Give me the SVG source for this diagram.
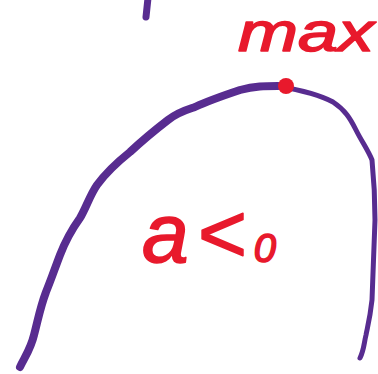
<svg xmlns="http://www.w3.org/2000/svg" width="378" height="374" viewBox="0 0 378 374">
<style>
.curve{fill:none;stroke:#582C90;stroke-linecap:round;stroke-linejoin:round}
.hand{fill:#E8192C;stroke:#E8192C;stroke-width:1.6;stroke-linejoin:round;font-family:"Liberation Sans","DejaVu Sans",sans-serif;font-style:italic}
</style>
<rect width="378" height="374" fill="#fff"/>
<g id="connectors">
<path class="curve" stroke-width="7" d="M148,-2 L146,17"/>
<path class="curve" stroke-width="8" d="M20,367 C26,355 31,348 34,335 C38,320 40,308 46,292 C51,280 55,268 60,255 C65,242 70,232 80,218 C86,208 90,195 97,185 C108,170 120,160 130,152 C145,138 155,130 168,120 C178,112 186,110 195,107 C210,100 225,95 240,90 C255,86 265,86 278,86"/>
<path class="curve" stroke-width="5" d="M278,86 C300,90 320,95 333,102 C345,110 350,118 356,130 C362,142 368,150 372,160 C374,180 375,200 375,220 C374,245 373,270 372,300 C370,318 368,325 366,335 C364,343 364,350 360,358"/>
</g>
<g id="max-point">
<circle cx="286" cy="86" r="8" fill="#E8192C"/>
</g>
<g id="label-max">
<text class="hand" x="238" y="51" font-size="56" textLength="136" lengthAdjust="spacingAndGlyphs">max</text>
</g>
<g id="label-a">
<text class="hand" x="142" y="262" font-size="84" textLength="134" lengthAdjust="spacing">a&lt;<tspan font-size="40">0</tspan></text>
</g>
</svg>
